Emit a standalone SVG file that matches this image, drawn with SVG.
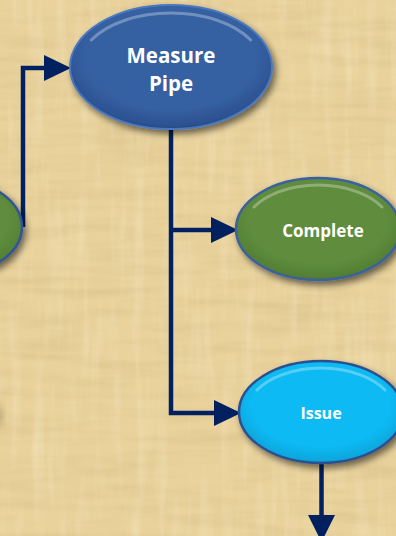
<svg xmlns="http://www.w3.org/2000/svg" width="396" height="536" viewBox="0 0 396 536">
<defs>
<style>
.conn{fill:none;stroke:#002060;stroke-width:4.5;stroke-linejoin:miter}
.head{fill:#002060}
.lbl{font-family:"Open Sans","Liberation Sans",sans-serif;font-weight:bold;fill:#ffffff;text-anchor:middle}
.hl{fill:none;stroke:#ffffff;stroke-opacity:0.3;stroke-width:3;stroke-linecap:round}
</style>
<filter id="paper" x="0" y="0" width="100%" height="100%">
<feTurbulence type="fractalNoise" baseFrequency="0.012 0.09" numOctaves="3" seed="4" result="n"/>
<feColorMatrix in="n" type="matrix" values="0 0 0 0 0.55  0 0 0 0 0.42  0 0 0 0 0.18  0 0 0 1.1 -0.45" result="c"/>
<feComposite in="c" in2="SourceGraphic" operator="in"/>
</filter>
<filter id="paper2" x="0" y="0" width="100%" height="100%">
<feTurbulence type="fractalNoise" baseFrequency="0.09 0.01" numOctaves="3" seed="9" result="n"/>
<feColorMatrix in="n" type="matrix" values="0 0 0 0 1  0 0 0 0 0.95  0 0 0 0 0.8  0 0 0 1.1 -0.5" result="c"/>
<feComposite in="c" in2="SourceGraphic" operator="in"/>
</filter>
<filter id="shadow" x="-20%" y="-20%" width="150%" height="160%">
<feGaussianBlur in="SourceAlpha" stdDeviation="3.5"/>
<feOffset dx="3" dy="4" result="b"/>
<feComponentTransfer><feFuncA type="linear" slope="0.55"/></feComponentTransfer>
<feMerge><feMergeNode/><feMergeNode in="SourceGraphic"/></feMerge>
</filter>
<filter id="blur8"><feGaussianBlur stdDeviation="6"/></filter>
<radialGradient id="gBlue" cx="0.5" cy="0.42" r="0.6">
<stop offset="0.7" stop-color="#3560a2"/>
<stop offset="0.92" stop-color="#2c5290"/>
<stop offset="1" stop-color="#1f3f73"/>
</radialGradient>
<radialGradient id="gGreen" cx="0.5" cy="0.42" r="0.6">
<stop offset="0.7" stop-color="#5e8c3c"/>
<stop offset="0.92" stop-color="#547f35"/>
<stop offset="1" stop-color="#3f6127"/>
</radialGradient>
<radialGradient id="gCyan" cx="0.5" cy="0.42" r="0.6">
<stop offset="0.7" stop-color="#0cbaf4"/>
<stop offset="0.92" stop-color="#0aa7dd"/>
<stop offset="1" stop-color="#0887b6"/>
</radialGradient>
</defs>

<g id="background">
<rect width="396" height="536" fill="#e9d29c"/>
<rect width="396" height="536" fill="#e9d29c" filter="url(#paper)" opacity="0.5"/>
<rect width="396" height="536" fill="#e9d29c" filter="url(#paper2)" opacity="0.45"/>
<ellipse cx="-30" cy="416" rx="30" ry="18" fill="#5a4a2a" opacity="0.55" filter="url(#blur8)"/>
</g>

<g id="connectors">
<path class="conn" d="M23 227 V68 H46"/>
<polygon class="head" points="44,55 71,68 44,81"/>
<path class="conn" d="M171 130 V413 H216"/>
<path class="conn" d="M171 230 H213"/>
<polygon class="head" points="211,217 238,230 211,243"/>
<polygon class="head" points="214,400 241,413 214,426"/>
<path class="conn" d="M321.5 463 V518"/>
<polygon class="head" points="308,515 335,515 321.5,542"/>
</g>

<g id="node-left">
<ellipse cx="-60" cy="227" rx="82" ry="51" fill="url(#gGreen)" stroke="#2f5597" stroke-width="2.5" filter="url(#shadow)"/>
</g>

<g id="node-measure-pipe">
<ellipse cx="171" cy="67" rx="101" ry="62" fill="url(#gBlue)" stroke="#4a78c0" stroke-width="2" filter="url(#shadow)"/>
<path class="hl" d="M91.3 40 A92 54 0 0 1 250.7 40"/>
<text class="lbl" x="171" y="63" font-size="20.5">Measure</text>
<text class="lbl" x="171" y="91" font-size="20.5">Pipe</text>
</g>

<g id="node-complete">
<ellipse cx="318" cy="229" rx="82" ry="51" fill="url(#gGreen)" stroke="#3a62a0" stroke-width="2.5" filter="url(#shadow)"/>
<path class="hl" d="M254 207 A74 44 0 0 1 382 207"/>
<text class="lbl" x="323" y="237" font-size="17">Complete</text>
</g>

<g id="node-issue">
<ellipse cx="321" cy="412" rx="82" ry="51" fill="url(#gCyan)" stroke="#2f4f8f" stroke-width="2.5" filter="url(#shadow)"/>
<path class="hl" d="M257 390 A74 44 0 0 1 385 390"/>
<text class="lbl" x="321" y="419" font-size="16">Issue</text>
</g>
</svg>
